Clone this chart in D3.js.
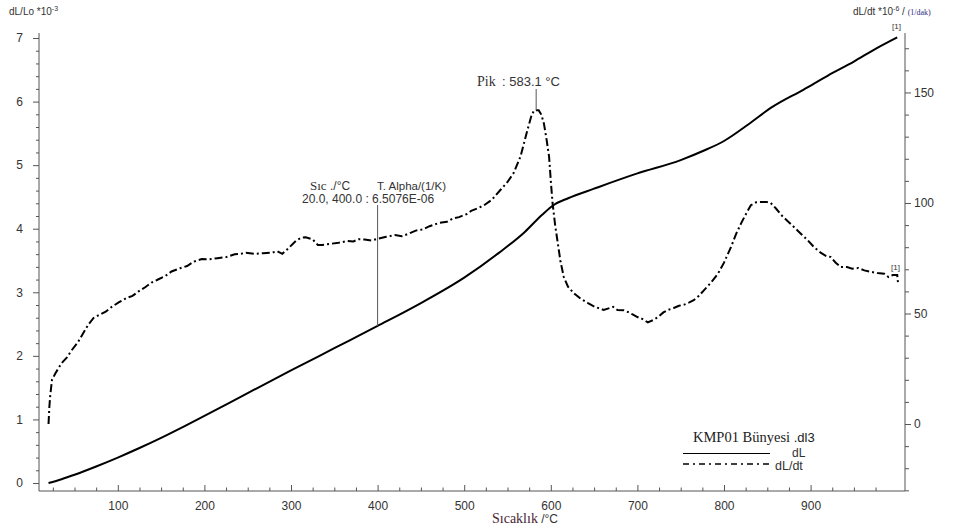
<!DOCTYPE html>
<html>
<head>
<meta charset="utf-8">
<script src="https://cdn.jsdelivr.net/npm/d3@7"></script>
<style>
  html, body { margin: 0; padding: 0; background: #fff; }
  svg { display: block; }
</style>
</head>
<body>
<svg id="chart" width="955" height="531"></svg>
<script>
// ---- Data ----
const xTicks = [100, 200, 300, 400, 500, 600, 700, 800, 900];
const leftTicks = [0, 1, 2, 3, 4, 5, 6, 7];
const rightTicks = [0, 50, 100, 150];

// dL (left axis, dL/Lo *10^-3) vs temperature (°C)
const dLTemp = [20, 35, 50, 75, 100, 125, 150, 175, 200, 250, 300, 350, 400, 450, 500, 540, 570, 590, 603, 620, 650, 700, 750, 777, 800, 830, 854, 892, 920, 950, 975, 1000];
const dLVal  = [0, 0.06, 0.13, 0.26, 0.40, 0.55, 0.71, 0.88, 1.055, 1.415, 1.77, 2.12, 2.47, 2.83, 3.23, 3.62, 3.95, 4.22, 4.37, 4.48, 4.63, 4.87, 5.08, 5.23, 5.38, 5.66, 5.90, 6.19, 6.41, 6.63, 6.83, 7.01];

// dL/dt (right axis, *10^-6 /(1/dak)) vs temperature (°C)
const dtTemp = [20, 21, 22, 24, 28, 35, 41, 47, 54, 61, 66, 72, 79, 86, 93, 101, 110, 117, 124, 132, 139, 147, 155, 162, 172, 180, 188, 197, 205, 215, 225, 235, 242, 248, 258, 268, 278, 284, 290, 297, 306, 312, 317, 325, 331, 336, 345, 355, 365, 372, 378, 385, 393, 400, 410, 420, 428, 432, 438, 444, 452, 460, 471, 480, 487, 494, 503, 508, 515, 523, 532, 542, 550, 557, 565, 573, 578, 581, 586, 589, 592, 595, 598, 600, 602, 605, 608, 611, 615, 620, 627, 635, 643, 651, 661, 668, 672, 677, 684, 689, 695, 700, 706, 712, 718, 724, 730, 735, 742, 748, 754, 760, 765, 771, 777, 785, 793, 800, 808, 814, 820, 826, 831, 837, 843, 849, 854, 860, 866, 873, 881, 889, 897, 904, 912, 918, 923, 929, 935, 942, 948, 955, 962, 970, 977, 985, 990, 995, 1000, 1001];
const dtVal  = [0, 8, 13, 20, 23, 27.5, 30, 33.5, 37, 41.7, 45, 48, 49.5, 50.8, 53, 55, 57, 58, 60, 62, 64, 65.5, 67, 69, 70.5, 71.5, 73.5, 74.6, 74.5, 75, 75.5, 76.8, 77, 77.5, 77, 77.3, 77.5, 78.2, 77, 79.5, 83, 84.3, 84.5, 83.5, 81, 81, 81.5, 82, 82.8, 82.6, 83.6, 83.5, 83, 83.8, 84.7, 85.5, 85, 85.5, 86.5, 87.5, 88, 89.5, 91, 91.5, 93, 93.6, 95, 96.4, 97.5, 99, 101.5, 106, 109.5, 113.5, 121, 133, 140, 142, 142, 140, 136, 129, 121, 110, 100, 90, 82, 74, 66.5, 62, 59, 56.5, 54.7, 53, 51.6, 52.5, 53, 51.6, 51.5, 50.7, 49.5, 48.4, 47.5, 46, 47, 48.4, 50.5, 51.6, 52.5, 53.5, 54, 55, 56, 58, 60.6, 64, 68, 73, 80, 86, 91, 95.5, 99, 100.3, 100.5, 100.5, 100, 97.5, 94.6, 92, 89, 86, 83, 80, 77.4, 76, 75.6, 73, 71, 71, 70.3, 70.6, 69.5, 68.8, 68.3, 68, 66.5, 67.4, 67.4, 63.5];

const peakT = 583.1;
const peakV = 142;
const alphaT = 400.0;

// ---- Chart ----
const svg = d3.select("#chart");
const X0 = 39, X1 = 905, Y0 = 491, Y1 = 33;

const x = d3.scaleLinear().domain([9, 1009]).range([X0, X1]);
const yL = d3.scaleLinear().domain([-0.126, 7.079]).range([Y0, Y1]);
const yR = d3.scaleLinear().domain([-30.3, 176.9]).range([Y0, Y1]);

const axisColor = "#555";
const textColor = "#333";
const sansF = '"Liberation Sans", Arial, sans-serif';
const serifF = '"Liberation Serif", "Times New Roman", serif';

function styleAxis(g) {
  g.select(".domain").remove();
  g.selectAll(".tick line").attr("stroke", axisColor);
  g.selectAll(".tick text").attr("fill", textColor)
    .attr("font-family", sansF).attr("font-size", 12);
}

// minor ticks
const xMinor = d3.range(25, 1001, 25).filter(v => v % 100 !== 0);
svg.append("g").attr("transform", `translate(0,${Y0})`)
  .call(d3.axisBottom(x).tickValues(xMinor).tickSize(-3.5).tickFormat(""))
  .call(styleAxis);
svg.append("g").attr("transform", `translate(0,${Y0})`)
  .call(d3.axisBottom(x).tickValues(xTicks).tickSize(-6).tickPadding(10).tickFormat(d3.format("d")))
  .call(styleAxis);

const lMinor = d3.range(0, 35).map(i => +(i * 0.2).toFixed(1)).filter(v => Math.abs(v - Math.round(v)) > 1e-6);
svg.append("g").attr("transform", `translate(${X0},0)`)
  .call(d3.axisLeft(yL).tickValues(lMinor).tickSize(3).tickFormat(""))
  .call(styleAxis);
svg.append("g").attr("transform", `translate(${X0},0)`)
  .call(d3.axisLeft(yL).tickValues(leftTicks).tickSize(6).tickPadding(10).tickFormat(d3.format("d")))
  .call(styleAxis);

const rMinor = d3.range(-30, 171, 10).filter(v => v % 50 !== 0);
svg.append("g").attr("transform", `translate(${X1},0)`)
  .call(d3.axisRight(yR).tickValues(rMinor).tickSize(4).tickFormat(""))
  .call(styleAxis);
svg.append("g").attr("transform", `translate(${X1},0)`)
  .call(d3.axisRight(yR).tickValues(rightTicks).tickSize(6).tickPadding(3).tickFormat(d3.format("d")))
  .call(styleAxis);

// axis lines
svg.append("line").attr("x1", X0).attr("x2", X0).attr("y1", Y1).attr("y2", Y0).attr("stroke", axisColor);
svg.append("line").attr("x1", X1).attr("x2", X1).attr("y1", Y1).attr("y2", Y0).attr("stroke", axisColor);
svg.append("line").attr("x1", X0).attr("x2", X1).attr("y1", Y0).attr("y2", Y0).attr("stroke", axisColor);

// lines
const dLData = dLTemp.map((t, i) => [t, dLVal[i]]);
const dtData = dtTemp.map((t, i) => [t, dtVal[i]]);

svg.append("path").datum(dLData)
  .attr("fill", "none").attr("stroke", "#000").attr("stroke-width", 2)
  .attr("d", d3.line().x(d => x(d[0])).y(d => yL(d[1])).curve(d3.curveMonotoneX));

svg.append("path").datum(dtData)
  .attr("fill", "none").attr("stroke", "#000").attr("stroke-width", 2)
  .attr("stroke-dasharray", "8,3,2,3")
  .attr("d", d3.line().x(d => x(d[0])).y(d => yR(d[1])));

// ---- annotations ----
// Peak
svg.append("line").attr("x1", x(peakT)).attr("x2", x(peakT)).attr("y1", 89).attr("y2", yR(peakV))
  .attr("stroke", "#555").attr("stroke-width", 1);
svg.append("text").attr("x", 477).attr("y", 86).attr("font-family", serifF).attr("font-size", 14)
  .attr("fill", textColor).text("Pik");
svg.append("text").attr("x", 502).attr("y", 86).attr("font-family", sansF).attr("font-size", 13)
  .attr("fill", textColor).text(": 583.1 °C");

// Alpha
const iA = d3.bisectLeft(dLTemp, alphaT);
const alphaDL = dLVal[iA];
svg.append("line").attr("x1", x(alphaT)).attr("x2", x(alphaT)).attr("y1", 205).attr("y2", yL(alphaDL))
  .attr("stroke", "#555").attr("stroke-width", 1);
const a1 = svg.append("text").attr("x", 310).attr("y", 190).attr("font-size", 12).attr("fill", textColor);
a1.append("tspan").attr("font-family", serifF).attr("font-size", 13).text("Sıc");
a1.append("tspan").attr("font-family", sansF).text(" ./°C");
svg.append("text").attr("x", 377).attr("y", 190).attr("font-family", sansF).attr("font-size", 11.5)
  .attr("fill", textColor).text("T. Alpha/(1/K)");
svg.append("text").attr("x", 302).attr("y", 203).attr("font-family", sansF).attr("font-size", 12)
  .attr("fill", textColor).text("20.0, 400.0 : 6.5076E-06");

// [1] markers
svg.append("text").attr("x", 892).attr("y", 29).attr("font-family", sansF).attr("font-size", 8)
  .attr("fill", textColor).text("[1]");
svg.append("text").attr("x", 891).attr("y", 270).attr("font-family", sansF).attr("font-size", 8)
  .attr("fill", textColor).text("[1]");

// Axis titles
const tl = svg.append("text").attr("x", 9).attr("y", 15).attr("font-family", sansF).attr("font-size", 10).attr("fill", textColor);
tl.append("tspan").text("dL/Lo *10");
tl.append("tspan").attr("dy", -4).attr("font-size", 7).text("-3");

const tr = svg.append("text").attr("x", 853).attr("y", 15).attr("font-family", sansF).attr("font-size", 10).attr("fill", textColor);
tr.append("tspan").text("dL/dt *10");
tr.append("tspan").attr("dy", -4).attr("font-size", 7).text("-6");
tr.append("tspan").attr("dy", 4).text(" / ");
tr.append("tspan").attr("font-family", serifF).attr("font-size", 8).attr("fill", "#2b2b7a").text("(1/dak)");

const xt = svg.append("text").attr("x", 492).attr("y", 523).attr("font-size", 12).attr("fill", textColor);
xt.append("tspan").attr("font-family", serifF).attr("font-size", 14).attr("fill", "#4a2535").text("Sıcaklık");
xt.append("tspan").attr("font-family", sansF).text(" /°C");

// Legend
const lg = svg.append("text").attr("x", 693).attr("y", 442).attr("font-size", 14.5).attr("fill", "#222");
lg.append("tspan").attr("font-family", serifF).text("KMP01 Bünyesi");
lg.append("tspan").attr("font-family", sansF).attr("font-size", 13).text(" .dl3");
svg.append("line").attr("x1", 683).attr("x2", 770).attr("y1", 453.5).attr("y2", 453.5).attr("stroke", "#000").attr("stroke-width", 1);
svg.append("text").attr("x", 792).attr("y", 457).attr("font-family", sansF).attr("font-size", 12).attr("fill", textColor).text("dL");
svg.append("line").attr("x1", 683).attr("x2", 772).attr("y1", 464).attr("y2", 464).attr("stroke", "#000").attr("stroke-width", 1.5)
  .attr("stroke-dasharray", "6,4,2,4");
svg.append("text").attr("x", 775).attr("y", 470).attr("font-family", sansF).attr("font-size", 12.5).attr("fill", textColor).text("dL/dt");
</script>
</body>
</html>
